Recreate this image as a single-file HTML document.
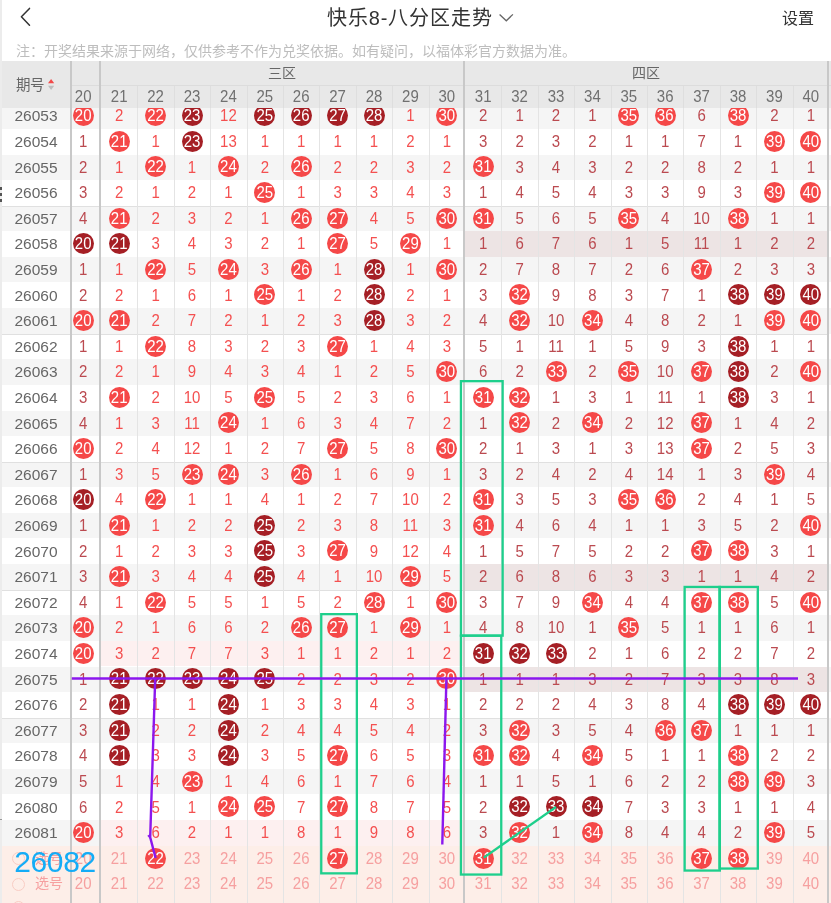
<!DOCTYPE html><html lang="zh-CN"><head><meta charset="utf-8"><style>
*{margin:0;padding:0;box-sizing:border-box}
html,body{width:831px;height:903px;overflow:hidden;background:#fff}
.L{will-change:transform}
.b span{display:inline-block;transform:scaleY(1.08)}
.t{transform:scaleY(1.08)}
body{position:relative;font-family:"Liberation Sans",sans-serif}
.a{position:absolute}
.t{position:absolute;width:36px;text-align:center;font-size:15px;line-height:25.6px;height:25.6px}
.b{position:absolute;width:21px;height:21px;border-radius:50%;color:#fff;text-align:center;font-size:15px;line-height:21px;}
.bb{background:#f54848}.bd{background:#a51f25}
.z3{color:#f45050}.z4{color:#bb4a50}
.pid{position:absolute;left:2px;width:68px;text-align:center;font-size:15.5px;color:#666;line-height:25.6px;height:25.6px}
.hl{position:absolute;height:1px}
.vl{position:absolute;width:1px}

</style></head><body><div class="a L" style="left:0;top:0;width:831px;height:903px;overflow:hidden">
<svg class="a" style="left:0;top:0" width="831" height="36"><polyline points="29.5,8.4 21.4,16.85 29.5,25.3" fill="none" stroke="#333" stroke-width="1.5" stroke-linecap="round" stroke-linejoin="round"/><polyline points="499.6,14.6 506.3,20.8 512.9,14.4" fill="none" stroke="#666" stroke-width="1.3"/></svg>
<div class="a" style="left:327px;top:1.5px;font-size:20px;color:#333;letter-spacing:0.9px;white-space:nowrap">快乐8-八分区走势</div>
<div class="a" style="left:782px;top:5px;font-size:16px;color:#333;white-space:nowrap">设置</div>
<div class="a" style="left:16px;top:40px;font-size:14px;color:#bdbdbd;white-space:nowrap">注：开奖结果来源于网络，仅供参考不作为兑奖依据。如有疑问，以福体彩官方数据为准。</div>
<div class="a L" style="left:0;top:108.0px;width:831px;height:795.0px;overflow:hidden">
<div class="a" style="left:2px;top:-4.70px;width:829px;height:25.6px;background:#f5f5f5"></div>
<div class="a" style="left:2px;top:46.50px;width:829px;height:25.6px;background:#f5f5f5"></div>
<div class="a" style="left:2px;top:97.70px;width:829px;height:25.6px;background:#f5f5f5"></div>
<div class="a" style="left:2px;top:148.90px;width:829px;height:25.6px;background:#f5f5f5"></div>
<div class="a" style="left:2px;top:200.10px;width:829px;height:25.6px;background:#f5f5f5"></div>
<div class="a" style="left:2px;top:251.30px;width:829px;height:25.6px;background:#f5f5f5"></div>
<div class="a" style="left:2px;top:302.50px;width:829px;height:25.6px;background:#f5f5f5"></div>
<div class="a" style="left:2px;top:353.70px;width:829px;height:25.6px;background:#f5f5f5"></div>
<div class="a" style="left:2px;top:404.90px;width:829px;height:25.6px;background:#f5f5f5"></div>
<div class="a" style="left:2px;top:456.10px;width:829px;height:25.6px;background:#f5f5f5"></div>
<div class="a" style="left:2px;top:507.30px;width:829px;height:25.6px;background:#f5f5f5"></div>
<div class="a" style="left:2px;top:558.50px;width:829px;height:25.6px;background:#f5f5f5"></div>
<div class="a" style="left:2px;top:609.70px;width:829px;height:25.6px;background:#f5f5f5"></div>
<div class="a" style="left:2px;top:660.90px;width:829px;height:25.6px;background:#f5f5f5"></div>
<div class="a" style="left:2px;top:712.10px;width:829px;height:25.6px;background:#f5f5f5"></div>
<div class="a" style="left:465px;top:123.30px;width:362px;height:25.6px;background:#ede4e4"></div>
<div class="a" style="left:465px;top:456.10px;width:362px;height:25.6px;background:#ede4e4"></div>
<div class="a" style="left:101px;top:532.90px;width:362px;height:25.6px;background:#fdf0f0"></div>
<div class="a" style="left:465px;top:558.50px;width:362px;height:25.6px;background:#ede4e4"></div>
<div class="a" style="left:101px;top:712.10px;width:362px;height:25.6px;background:#fdf0f0"></div>
<div class="a" style="left:2px;top:737.70px;width:829px;height:80px;background:#fdeee8"></div>
<div class="hl" style="left:2px;top:98.10px;width:827px;background:#e0e0e0"></div>
<div class="hl" style="left:2px;top:226.10px;width:827px;background:#e0e0e0"></div>
<div class="hl" style="left:2px;top:354.10px;width:827px;background:#e0e0e0"></div>
<div class="hl" style="left:2px;top:482.10px;width:827px;background:#e0e0e0"></div>
<div class="hl" style="left:2px;top:610.10px;width:827px;background:#e0e0e0"></div>
<div class="vl" style="left:137.40px;top:0;height:800px;background:#e4e4e4"></div>
<div class="vl" style="left:173.80px;top:0;height:800px;background:#e4e4e4"></div>
<div class="vl" style="left:210.20px;top:0;height:800px;background:#e4e4e4"></div>
<div class="vl" style="left:246.60px;top:0;height:800px;background:#e4e4e4"></div>
<div class="vl" style="left:283.00px;top:0;height:800px;background:#e4e4e4"></div>
<div class="vl" style="left:319.40px;top:0;height:800px;background:#e4e4e4"></div>
<div class="vl" style="left:355.80px;top:0;height:800px;background:#e4e4e4"></div>
<div class="vl" style="left:392.20px;top:0;height:800px;background:#e4e4e4"></div>
<div class="vl" style="left:428.60px;top:0;height:800px;background:#e4e4e4"></div>
<div class="vl" style="left:501.40px;top:0;height:800px;background:#e4e4e4"></div>
<div class="vl" style="left:537.80px;top:0;height:800px;background:#e4e4e4"></div>
<div class="vl" style="left:574.20px;top:0;height:800px;background:#e4e4e4"></div>
<div class="vl" style="left:610.60px;top:0;height:800px;background:#e4e4e4"></div>
<div class="vl" style="left:647.00px;top:0;height:800px;background:#e4e4e4"></div>
<div class="vl" style="left:683.40px;top:0;height:800px;background:#e4e4e4"></div>
<div class="vl" style="left:719.80px;top:0;height:800px;background:#e4e4e4"></div>
<div class="vl" style="left:756.20px;top:0;height:800px;background:#e4e4e4"></div>
<div class="vl" style="left:792.60px;top:0;height:800px;background:#e4e4e4"></div>
<div class="a" style="left:70px;top:0;width:2px;height:800px;background:#c8c8c8"></div>
<div class="a" style="left:99px;top:0;width:2px;height:800px;background:#c8c8c8"></div>
<div class="a" style="left:463px;top:0;width:2px;height:800px;background:#c8c8c8"></div>
<div class="a" style="left:827px;top:0;width:2px;height:800px;background:#c8c8c8"></div>
<div class="pid" style="top:-4.70px">26053</div>
<div class="b bb" style="left:72.70px;top:-2.80px"><span>20</span></div>
<div class="t z3" style="left:101.20px;top:-4.60px">2</div>
<div class="b bb" style="left:145.10px;top:-2.80px"><span>22</span></div>
<div class="b bd" style="left:181.50px;top:-2.80px"><span>23</span></div>
<div class="t z3" style="left:210.40px;top:-4.60px">12</div>
<div class="b bd" style="left:254.30px;top:-2.80px"><span>25</span></div>
<div class="b bd" style="left:290.70px;top:-2.80px"><span>26</span></div>
<div class="b bd" style="left:327.10px;top:-2.80px"><span>27</span></div>
<div class="b bd" style="left:363.50px;top:-2.80px"><span>28</span></div>
<div class="t z3" style="left:392.40px;top:-4.60px">1</div>
<div class="b bb" style="left:436.30px;top:-2.80px"><span>30</span></div>
<div class="t z4" style="left:465.20px;top:-4.60px">2</div>
<div class="t z4" style="left:501.60px;top:-4.60px">1</div>
<div class="t z4" style="left:538.00px;top:-4.60px">2</div>
<div class="t z4" style="left:574.40px;top:-4.60px">1</div>
<div class="b bb" style="left:618.30px;top:-2.80px"><span>35</span></div>
<div class="b bb" style="left:654.70px;top:-2.80px"><span>36</span></div>
<div class="t z4" style="left:683.60px;top:-4.60px">6</div>
<div class="b bb" style="left:727.50px;top:-2.80px"><span>38</span></div>
<div class="t z4" style="left:756.40px;top:-4.60px">2</div>
<div class="t z4" style="left:792.80px;top:-4.60px">1</div>
<div class="pid" style="top:20.90px">26054</div>
<div class="t z4" style="left:65.20px;top:21.00px">1</div>
<div class="b bb" style="left:108.70px;top:22.80px"><span>21</span></div>
<div class="t z3" style="left:137.60px;top:21.00px">1</div>
<div class="b bd" style="left:181.50px;top:22.80px"><span>23</span></div>
<div class="t z3" style="left:210.40px;top:21.00px">13</div>
<div class="t z3" style="left:246.80px;top:21.00px">1</div>
<div class="t z3" style="left:283.20px;top:21.00px">1</div>
<div class="t z3" style="left:319.60px;top:21.00px">1</div>
<div class="t z3" style="left:356.00px;top:21.00px">1</div>
<div class="t z3" style="left:392.40px;top:21.00px">2</div>
<div class="t z3" style="left:428.80px;top:21.00px">1</div>
<div class="t z4" style="left:465.20px;top:21.00px">3</div>
<div class="t z4" style="left:501.60px;top:21.00px">2</div>
<div class="t z4" style="left:538.00px;top:21.00px">3</div>
<div class="t z4" style="left:574.40px;top:21.00px">2</div>
<div class="t z4" style="left:610.80px;top:21.00px">1</div>
<div class="t z4" style="left:647.20px;top:21.00px">1</div>
<div class="t z4" style="left:683.60px;top:21.00px">7</div>
<div class="t z4" style="left:720.00px;top:21.00px">1</div>
<div class="b bb" style="left:763.90px;top:22.80px"><span>39</span></div>
<div class="b bb" style="left:800.30px;top:22.80px"><span>40</span></div>
<div class="pid" style="top:46.50px">26055</div>
<div class="t z4" style="left:65.20px;top:46.60px">2</div>
<div class="t z3" style="left:101.20px;top:46.60px">1</div>
<div class="b bb" style="left:145.10px;top:48.40px"><span>22</span></div>
<div class="t z3" style="left:174.00px;top:46.60px">1</div>
<div class="b bb" style="left:217.90px;top:48.40px"><span>24</span></div>
<div class="t z3" style="left:246.80px;top:46.60px">2</div>
<div class="b bb" style="left:290.70px;top:48.40px"><span>26</span></div>
<div class="t z3" style="left:319.60px;top:46.60px">2</div>
<div class="t z3" style="left:356.00px;top:46.60px">2</div>
<div class="t z3" style="left:392.40px;top:46.60px">3</div>
<div class="t z3" style="left:428.80px;top:46.60px">2</div>
<div class="b bb" style="left:472.70px;top:48.40px"><span>31</span></div>
<div class="t z4" style="left:501.60px;top:46.60px">3</div>
<div class="t z4" style="left:538.00px;top:46.60px">4</div>
<div class="t z4" style="left:574.40px;top:46.60px">3</div>
<div class="t z4" style="left:610.80px;top:46.60px">2</div>
<div class="t z4" style="left:647.20px;top:46.60px">2</div>
<div class="t z4" style="left:683.60px;top:46.60px">8</div>
<div class="t z4" style="left:720.00px;top:46.60px">2</div>
<div class="t z4" style="left:756.40px;top:46.60px">1</div>
<div class="t z4" style="left:792.80px;top:46.60px">1</div>
<div class="pid" style="top:72.10px">26056</div>
<div class="t z4" style="left:65.20px;top:72.20px">3</div>
<div class="t z3" style="left:101.20px;top:72.20px">2</div>
<div class="t z3" style="left:137.60px;top:72.20px">1</div>
<div class="t z3" style="left:174.00px;top:72.20px">2</div>
<div class="t z3" style="left:210.40px;top:72.20px">1</div>
<div class="b bb" style="left:254.30px;top:74.00px"><span>25</span></div>
<div class="t z3" style="left:283.20px;top:72.20px">1</div>
<div class="t z3" style="left:319.60px;top:72.20px">3</div>
<div class="t z3" style="left:356.00px;top:72.20px">3</div>
<div class="t z3" style="left:392.40px;top:72.20px">4</div>
<div class="t z3" style="left:428.80px;top:72.20px">3</div>
<div class="t z4" style="left:465.20px;top:72.20px">1</div>
<div class="t z4" style="left:501.60px;top:72.20px">4</div>
<div class="t z4" style="left:538.00px;top:72.20px">5</div>
<div class="t z4" style="left:574.40px;top:72.20px">4</div>
<div class="t z4" style="left:610.80px;top:72.20px">3</div>
<div class="t z4" style="left:647.20px;top:72.20px">3</div>
<div class="t z4" style="left:683.60px;top:72.20px">9</div>
<div class="t z4" style="left:720.00px;top:72.20px">3</div>
<div class="b bb" style="left:763.90px;top:74.00px"><span>39</span></div>
<div class="b bb" style="left:800.30px;top:74.00px"><span>40</span></div>
<div class="pid" style="top:97.70px">26057</div>
<div class="t z4" style="left:65.20px;top:97.80px">4</div>
<div class="b bb" style="left:108.70px;top:99.60px"><span>21</span></div>
<div class="t z3" style="left:137.60px;top:97.80px">2</div>
<div class="t z3" style="left:174.00px;top:97.80px">3</div>
<div class="t z3" style="left:210.40px;top:97.80px">2</div>
<div class="t z3" style="left:246.80px;top:97.80px">1</div>
<div class="b bb" style="left:290.70px;top:99.60px"><span>26</span></div>
<div class="b bb" style="left:327.10px;top:99.60px"><span>27</span></div>
<div class="t z3" style="left:356.00px;top:97.80px">4</div>
<div class="t z3" style="left:392.40px;top:97.80px">5</div>
<div class="b bb" style="left:436.30px;top:99.60px"><span>30</span></div>
<div class="b bb" style="left:472.70px;top:99.60px"><span>31</span></div>
<div class="t z4" style="left:501.60px;top:97.80px">5</div>
<div class="t z4" style="left:538.00px;top:97.80px">6</div>
<div class="t z4" style="left:574.40px;top:97.80px">5</div>
<div class="b bb" style="left:618.30px;top:99.60px"><span>35</span></div>
<div class="t z4" style="left:647.20px;top:97.80px">4</div>
<div class="t z4" style="left:683.60px;top:97.80px">10</div>
<div class="b bb" style="left:727.50px;top:99.60px"><span>38</span></div>
<div class="t z4" style="left:756.40px;top:97.80px">1</div>
<div class="t z4" style="left:792.80px;top:97.80px">1</div>
<div class="pid" style="top:123.30px">26058</div>
<div class="b bd" style="left:72.70px;top:125.20px"><span>20</span></div>
<div class="b bd" style="left:108.70px;top:125.20px"><span>21</span></div>
<div class="t z3" style="left:137.60px;top:123.40px">3</div>
<div class="t z3" style="left:174.00px;top:123.40px">4</div>
<div class="t z3" style="left:210.40px;top:123.40px">3</div>
<div class="t z3" style="left:246.80px;top:123.40px">2</div>
<div class="t z3" style="left:283.20px;top:123.40px">1</div>
<div class="b bb" style="left:327.10px;top:125.20px"><span>27</span></div>
<div class="t z3" style="left:356.00px;top:123.40px">5</div>
<div class="b bb" style="left:399.90px;top:125.20px"><span>29</span></div>
<div class="t z3" style="left:428.80px;top:123.40px">1</div>
<div class="t z4" style="left:465.20px;top:123.40px">1</div>
<div class="t z4" style="left:501.60px;top:123.40px">6</div>
<div class="t z4" style="left:538.00px;top:123.40px">7</div>
<div class="t z4" style="left:574.40px;top:123.40px">6</div>
<div class="t z4" style="left:610.80px;top:123.40px">1</div>
<div class="t z4" style="left:647.20px;top:123.40px">5</div>
<div class="t z4" style="left:683.60px;top:123.40px">11</div>
<div class="t z4" style="left:720.00px;top:123.40px">1</div>
<div class="t z4" style="left:756.40px;top:123.40px">2</div>
<div class="t z4" style="left:792.80px;top:123.40px">2</div>
<div class="pid" style="top:148.90px">26059</div>
<div class="t z4" style="left:65.20px;top:149.00px">1</div>
<div class="t z3" style="left:101.20px;top:149.00px">1</div>
<div class="b bb" style="left:145.10px;top:150.80px"><span>22</span></div>
<div class="t z3" style="left:174.00px;top:149.00px">5</div>
<div class="b bb" style="left:217.90px;top:150.80px"><span>24</span></div>
<div class="t z3" style="left:246.80px;top:149.00px">3</div>
<div class="b bb" style="left:290.70px;top:150.80px"><span>26</span></div>
<div class="t z3" style="left:319.60px;top:149.00px">1</div>
<div class="b bd" style="left:363.50px;top:150.80px"><span>28</span></div>
<div class="t z3" style="left:392.40px;top:149.00px">1</div>
<div class="b bb" style="left:436.30px;top:150.80px"><span>30</span></div>
<div class="t z4" style="left:465.20px;top:149.00px">2</div>
<div class="t z4" style="left:501.60px;top:149.00px">7</div>
<div class="t z4" style="left:538.00px;top:149.00px">8</div>
<div class="t z4" style="left:574.40px;top:149.00px">7</div>
<div class="t z4" style="left:610.80px;top:149.00px">2</div>
<div class="t z4" style="left:647.20px;top:149.00px">6</div>
<div class="b bb" style="left:691.10px;top:150.80px"><span>37</span></div>
<div class="t z4" style="left:720.00px;top:149.00px">2</div>
<div class="t z4" style="left:756.40px;top:149.00px">3</div>
<div class="t z4" style="left:792.80px;top:149.00px">3</div>
<div class="pid" style="top:174.50px">26060</div>
<div class="t z4" style="left:65.20px;top:174.60px">2</div>
<div class="t z3" style="left:101.20px;top:174.60px">2</div>
<div class="t z3" style="left:137.60px;top:174.60px">1</div>
<div class="t z3" style="left:174.00px;top:174.60px">6</div>
<div class="t z3" style="left:210.40px;top:174.60px">1</div>
<div class="b bb" style="left:254.30px;top:176.40px"><span>25</span></div>
<div class="t z3" style="left:283.20px;top:174.60px">1</div>
<div class="t z3" style="left:319.60px;top:174.60px">2</div>
<div class="b bd" style="left:363.50px;top:176.40px"><span>28</span></div>
<div class="t z3" style="left:392.40px;top:174.60px">2</div>
<div class="t z3" style="left:428.80px;top:174.60px">1</div>
<div class="t z4" style="left:465.20px;top:174.60px">3</div>
<div class="b bb" style="left:509.10px;top:176.40px"><span>32</span></div>
<div class="t z4" style="left:538.00px;top:174.60px">9</div>
<div class="t z4" style="left:574.40px;top:174.60px">8</div>
<div class="t z4" style="left:610.80px;top:174.60px">3</div>
<div class="t z4" style="left:647.20px;top:174.60px">7</div>
<div class="t z4" style="left:683.60px;top:174.60px">1</div>
<div class="b bd" style="left:727.50px;top:176.40px"><span>38</span></div>
<div class="b bd" style="left:763.90px;top:176.40px"><span>39</span></div>
<div class="b bd" style="left:800.30px;top:176.40px"><span>40</span></div>
<div class="pid" style="top:200.10px">26061</div>
<div class="b bb" style="left:72.70px;top:202.00px"><span>20</span></div>
<div class="b bb" style="left:108.70px;top:202.00px"><span>21</span></div>
<div class="t z3" style="left:137.60px;top:200.20px">2</div>
<div class="t z3" style="left:174.00px;top:200.20px">7</div>
<div class="t z3" style="left:210.40px;top:200.20px">2</div>
<div class="t z3" style="left:246.80px;top:200.20px">1</div>
<div class="t z3" style="left:283.20px;top:200.20px">2</div>
<div class="t z3" style="left:319.60px;top:200.20px">3</div>
<div class="b bd" style="left:363.50px;top:202.00px"><span>28</span></div>
<div class="t z3" style="left:392.40px;top:200.20px">3</div>
<div class="t z3" style="left:428.80px;top:200.20px">2</div>
<div class="t z4" style="left:465.20px;top:200.20px">4</div>
<div class="b bb" style="left:509.10px;top:202.00px"><span>32</span></div>
<div class="t z4" style="left:538.00px;top:200.20px">10</div>
<div class="b bb" style="left:581.90px;top:202.00px"><span>34</span></div>
<div class="t z4" style="left:610.80px;top:200.20px">4</div>
<div class="t z4" style="left:647.20px;top:200.20px">8</div>
<div class="t z4" style="left:683.60px;top:200.20px">2</div>
<div class="t z4" style="left:720.00px;top:200.20px">1</div>
<div class="b bb" style="left:763.90px;top:202.00px"><span>39</span></div>
<div class="b bb" style="left:800.30px;top:202.00px"><span>40</span></div>
<div class="pid" style="top:225.70px">26062</div>
<div class="t z4" style="left:65.20px;top:225.80px">1</div>
<div class="t z3" style="left:101.20px;top:225.80px">1</div>
<div class="b bb" style="left:145.10px;top:227.60px"><span>22</span></div>
<div class="t z3" style="left:174.00px;top:225.80px">8</div>
<div class="t z3" style="left:210.40px;top:225.80px">3</div>
<div class="t z3" style="left:246.80px;top:225.80px">2</div>
<div class="t z3" style="left:283.20px;top:225.80px">3</div>
<div class="b bb" style="left:327.10px;top:227.60px"><span>27</span></div>
<div class="t z3" style="left:356.00px;top:225.80px">1</div>
<div class="t z3" style="left:392.40px;top:225.80px">4</div>
<div class="t z3" style="left:428.80px;top:225.80px">3</div>
<div class="t z4" style="left:465.20px;top:225.80px">5</div>
<div class="t z4" style="left:501.60px;top:225.80px">1</div>
<div class="t z4" style="left:538.00px;top:225.80px">11</div>
<div class="t z4" style="left:574.40px;top:225.80px">1</div>
<div class="t z4" style="left:610.80px;top:225.80px">5</div>
<div class="t z4" style="left:647.20px;top:225.80px">9</div>
<div class="t z4" style="left:683.60px;top:225.80px">3</div>
<div class="b bd" style="left:727.50px;top:227.60px"><span>38</span></div>
<div class="t z4" style="left:756.40px;top:225.80px">1</div>
<div class="t z4" style="left:792.80px;top:225.80px">1</div>
<div class="pid" style="top:251.30px">26063</div>
<div class="t z4" style="left:65.20px;top:251.40px">2</div>
<div class="t z3" style="left:101.20px;top:251.40px">2</div>
<div class="t z3" style="left:137.60px;top:251.40px">1</div>
<div class="t z3" style="left:174.00px;top:251.40px">9</div>
<div class="t z3" style="left:210.40px;top:251.40px">4</div>
<div class="t z3" style="left:246.80px;top:251.40px">3</div>
<div class="t z3" style="left:283.20px;top:251.40px">4</div>
<div class="t z3" style="left:319.60px;top:251.40px">1</div>
<div class="t z3" style="left:356.00px;top:251.40px">2</div>
<div class="t z3" style="left:392.40px;top:251.40px">5</div>
<div class="b bb" style="left:436.30px;top:253.20px"><span>30</span></div>
<div class="t z4" style="left:465.20px;top:251.40px">6</div>
<div class="t z4" style="left:501.60px;top:251.40px">2</div>
<div class="b bb" style="left:545.50px;top:253.20px"><span>33</span></div>
<div class="t z4" style="left:574.40px;top:251.40px">2</div>
<div class="b bb" style="left:618.30px;top:253.20px"><span>35</span></div>
<div class="t z4" style="left:647.20px;top:251.40px">10</div>
<div class="b bb" style="left:691.10px;top:253.20px"><span>37</span></div>
<div class="b bd" style="left:727.50px;top:253.20px"><span>38</span></div>
<div class="t z4" style="left:756.40px;top:251.40px">2</div>
<div class="b bb" style="left:800.30px;top:253.20px"><span>40</span></div>
<div class="pid" style="top:276.90px">26064</div>
<div class="t z4" style="left:65.20px;top:277.00px">3</div>
<div class="b bb" style="left:108.70px;top:278.80px"><span>21</span></div>
<div class="t z3" style="left:137.60px;top:277.00px">2</div>
<div class="t z3" style="left:174.00px;top:277.00px">10</div>
<div class="t z3" style="left:210.40px;top:277.00px">5</div>
<div class="b bb" style="left:254.30px;top:278.80px"><span>25</span></div>
<div class="t z3" style="left:283.20px;top:277.00px">5</div>
<div class="t z3" style="left:319.60px;top:277.00px">2</div>
<div class="t z3" style="left:356.00px;top:277.00px">3</div>
<div class="t z3" style="left:392.40px;top:277.00px">6</div>
<div class="t z3" style="left:428.80px;top:277.00px">1</div>
<div class="b bb" style="left:472.70px;top:278.80px"><span>31</span></div>
<div class="b bb" style="left:509.10px;top:278.80px"><span>32</span></div>
<div class="t z4" style="left:538.00px;top:277.00px">1</div>
<div class="t z4" style="left:574.40px;top:277.00px">3</div>
<div class="t z4" style="left:610.80px;top:277.00px">1</div>
<div class="t z4" style="left:647.20px;top:277.00px">11</div>
<div class="t z4" style="left:683.60px;top:277.00px">1</div>
<div class="b bd" style="left:727.50px;top:278.80px"><span>38</span></div>
<div class="t z4" style="left:756.40px;top:277.00px">3</div>
<div class="t z4" style="left:792.80px;top:277.00px">1</div>
<div class="pid" style="top:302.50px">26065</div>
<div class="t z4" style="left:65.20px;top:302.60px">4</div>
<div class="t z3" style="left:101.20px;top:302.60px">1</div>
<div class="t z3" style="left:137.60px;top:302.60px">3</div>
<div class="t z3" style="left:174.00px;top:302.60px">11</div>
<div class="b bb" style="left:217.90px;top:304.40px"><span>24</span></div>
<div class="t z3" style="left:246.80px;top:302.60px">1</div>
<div class="t z3" style="left:283.20px;top:302.60px">6</div>
<div class="t z3" style="left:319.60px;top:302.60px">3</div>
<div class="t z3" style="left:356.00px;top:302.60px">4</div>
<div class="t z3" style="left:392.40px;top:302.60px">7</div>
<div class="t z3" style="left:428.80px;top:302.60px">2</div>
<div class="t z4" style="left:465.20px;top:302.60px">1</div>
<div class="b bb" style="left:509.10px;top:304.40px"><span>32</span></div>
<div class="t z4" style="left:538.00px;top:302.60px">2</div>
<div class="b bb" style="left:581.90px;top:304.40px"><span>34</span></div>
<div class="t z4" style="left:610.80px;top:302.60px">2</div>
<div class="t z4" style="left:647.20px;top:302.60px">12</div>
<div class="b bb" style="left:691.10px;top:304.40px"><span>37</span></div>
<div class="t z4" style="left:720.00px;top:302.60px">1</div>
<div class="t z4" style="left:756.40px;top:302.60px">4</div>
<div class="t z4" style="left:792.80px;top:302.60px">2</div>
<div class="pid" style="top:328.10px">26066</div>
<div class="b bb" style="left:72.70px;top:330.00px"><span>20</span></div>
<div class="t z3" style="left:101.20px;top:328.20px">2</div>
<div class="t z3" style="left:137.60px;top:328.20px">4</div>
<div class="t z3" style="left:174.00px;top:328.20px">12</div>
<div class="t z3" style="left:210.40px;top:328.20px">1</div>
<div class="t z3" style="left:246.80px;top:328.20px">2</div>
<div class="t z3" style="left:283.20px;top:328.20px">7</div>
<div class="b bb" style="left:327.10px;top:330.00px"><span>27</span></div>
<div class="t z3" style="left:356.00px;top:328.20px">5</div>
<div class="t z3" style="left:392.40px;top:328.20px">8</div>
<div class="b bb" style="left:436.30px;top:330.00px"><span>30</span></div>
<div class="t z4" style="left:465.20px;top:328.20px">2</div>
<div class="t z4" style="left:501.60px;top:328.20px">1</div>
<div class="t z4" style="left:538.00px;top:328.20px">3</div>
<div class="t z4" style="left:574.40px;top:328.20px">1</div>
<div class="t z4" style="left:610.80px;top:328.20px">3</div>
<div class="t z4" style="left:647.20px;top:328.20px">13</div>
<div class="b bb" style="left:691.10px;top:330.00px"><span>37</span></div>
<div class="t z4" style="left:720.00px;top:328.20px">2</div>
<div class="t z4" style="left:756.40px;top:328.20px">5</div>
<div class="t z4" style="left:792.80px;top:328.20px">3</div>
<div class="pid" style="top:353.70px">26067</div>
<div class="t z4" style="left:65.20px;top:353.80px">1</div>
<div class="t z3" style="left:101.20px;top:353.80px">3</div>
<div class="t z3" style="left:137.60px;top:353.80px">5</div>
<div class="b bb" style="left:181.50px;top:355.60px"><span>23</span></div>
<div class="b bb" style="left:217.90px;top:355.60px"><span>24</span></div>
<div class="t z3" style="left:246.80px;top:353.80px">3</div>
<div class="b bb" style="left:290.70px;top:355.60px"><span>26</span></div>
<div class="t z3" style="left:319.60px;top:353.80px">1</div>
<div class="t z3" style="left:356.00px;top:353.80px">6</div>
<div class="t z3" style="left:392.40px;top:353.80px">9</div>
<div class="t z3" style="left:428.80px;top:353.80px">1</div>
<div class="t z4" style="left:465.20px;top:353.80px">3</div>
<div class="t z4" style="left:501.60px;top:353.80px">2</div>
<div class="t z4" style="left:538.00px;top:353.80px">4</div>
<div class="t z4" style="left:574.40px;top:353.80px">2</div>
<div class="t z4" style="left:610.80px;top:353.80px">4</div>
<div class="t z4" style="left:647.20px;top:353.80px">14</div>
<div class="t z4" style="left:683.60px;top:353.80px">1</div>
<div class="t z4" style="left:720.00px;top:353.80px">3</div>
<div class="b bb" style="left:763.90px;top:355.60px"><span>39</span></div>
<div class="t z4" style="left:792.80px;top:353.80px">4</div>
<div class="pid" style="top:379.30px">26068</div>
<div class="b bd" style="left:72.70px;top:381.20px"><span>20</span></div>
<div class="t z3" style="left:101.20px;top:379.40px">4</div>
<div class="b bb" style="left:145.10px;top:381.20px"><span>22</span></div>
<div class="t z3" style="left:174.00px;top:379.40px">1</div>
<div class="t z3" style="left:210.40px;top:379.40px">1</div>
<div class="t z3" style="left:246.80px;top:379.40px">4</div>
<div class="t z3" style="left:283.20px;top:379.40px">1</div>
<div class="t z3" style="left:319.60px;top:379.40px">2</div>
<div class="t z3" style="left:356.00px;top:379.40px">7</div>
<div class="t z3" style="left:392.40px;top:379.40px">10</div>
<div class="t z3" style="left:428.80px;top:379.40px">2</div>
<div class="b bb" style="left:472.70px;top:381.20px"><span>31</span></div>
<div class="t z4" style="left:501.60px;top:379.40px">3</div>
<div class="t z4" style="left:538.00px;top:379.40px">5</div>
<div class="t z4" style="left:574.40px;top:379.40px">3</div>
<div class="b bb" style="left:618.30px;top:381.20px"><span>35</span></div>
<div class="b bb" style="left:654.70px;top:381.20px"><span>36</span></div>
<div class="t z4" style="left:683.60px;top:379.40px">2</div>
<div class="t z4" style="left:720.00px;top:379.40px">4</div>
<div class="t z4" style="left:756.40px;top:379.40px">1</div>
<div class="t z4" style="left:792.80px;top:379.40px">5</div>
<div class="pid" style="top:404.90px">26069</div>
<div class="t z4" style="left:65.20px;top:405.00px">1</div>
<div class="b bb" style="left:108.70px;top:406.80px"><span>21</span></div>
<div class="t z3" style="left:137.60px;top:405.00px">1</div>
<div class="t z3" style="left:174.00px;top:405.00px">2</div>
<div class="t z3" style="left:210.40px;top:405.00px">2</div>
<div class="b bd" style="left:254.30px;top:406.80px"><span>25</span></div>
<div class="t z3" style="left:283.20px;top:405.00px">2</div>
<div class="t z3" style="left:319.60px;top:405.00px">3</div>
<div class="t z3" style="left:356.00px;top:405.00px">8</div>
<div class="t z3" style="left:392.40px;top:405.00px">11</div>
<div class="t z3" style="left:428.80px;top:405.00px">3</div>
<div class="b bb" style="left:472.70px;top:406.80px"><span>31</span></div>
<div class="t z4" style="left:501.60px;top:405.00px">4</div>
<div class="t z4" style="left:538.00px;top:405.00px">6</div>
<div class="t z4" style="left:574.40px;top:405.00px">4</div>
<div class="t z4" style="left:610.80px;top:405.00px">1</div>
<div class="t z4" style="left:647.20px;top:405.00px">1</div>
<div class="t z4" style="left:683.60px;top:405.00px">3</div>
<div class="t z4" style="left:720.00px;top:405.00px">5</div>
<div class="t z4" style="left:756.40px;top:405.00px">2</div>
<div class="b bb" style="left:800.30px;top:406.80px"><span>40</span></div>
<div class="pid" style="top:430.50px">26070</div>
<div class="t z4" style="left:65.20px;top:430.60px">2</div>
<div class="t z3" style="left:101.20px;top:430.60px">1</div>
<div class="t z3" style="left:137.60px;top:430.60px">2</div>
<div class="t z3" style="left:174.00px;top:430.60px">3</div>
<div class="t z3" style="left:210.40px;top:430.60px">3</div>
<div class="b bd" style="left:254.30px;top:432.40px"><span>25</span></div>
<div class="t z3" style="left:283.20px;top:430.60px">3</div>
<div class="b bb" style="left:327.10px;top:432.40px"><span>27</span></div>
<div class="t z3" style="left:356.00px;top:430.60px">9</div>
<div class="t z3" style="left:392.40px;top:430.60px">12</div>
<div class="t z3" style="left:428.80px;top:430.60px">4</div>
<div class="t z4" style="left:465.20px;top:430.60px">1</div>
<div class="t z4" style="left:501.60px;top:430.60px">5</div>
<div class="t z4" style="left:538.00px;top:430.60px">7</div>
<div class="t z4" style="left:574.40px;top:430.60px">5</div>
<div class="t z4" style="left:610.80px;top:430.60px">2</div>
<div class="t z4" style="left:647.20px;top:430.60px">2</div>
<div class="b bb" style="left:691.10px;top:432.40px"><span>37</span></div>
<div class="b bb" style="left:727.50px;top:432.40px"><span>38</span></div>
<div class="t z4" style="left:756.40px;top:430.60px">3</div>
<div class="t z4" style="left:792.80px;top:430.60px">1</div>
<div class="pid" style="top:456.10px">26071</div>
<div class="t z4" style="left:65.20px;top:456.20px">3</div>
<div class="b bb" style="left:108.70px;top:458.00px"><span>21</span></div>
<div class="t z3" style="left:137.60px;top:456.20px">3</div>
<div class="t z3" style="left:174.00px;top:456.20px">4</div>
<div class="t z3" style="left:210.40px;top:456.20px">4</div>
<div class="b bd" style="left:254.30px;top:458.00px"><span>25</span></div>
<div class="t z3" style="left:283.20px;top:456.20px">4</div>
<div class="t z3" style="left:319.60px;top:456.20px">1</div>
<div class="t z3" style="left:356.00px;top:456.20px">10</div>
<div class="b bb" style="left:399.90px;top:458.00px"><span>29</span></div>
<div class="t z3" style="left:428.80px;top:456.20px">5</div>
<div class="t z4" style="left:465.20px;top:456.20px">2</div>
<div class="t z4" style="left:501.60px;top:456.20px">6</div>
<div class="t z4" style="left:538.00px;top:456.20px">8</div>
<div class="t z4" style="left:574.40px;top:456.20px">6</div>
<div class="t z4" style="left:610.80px;top:456.20px">3</div>
<div class="t z4" style="left:647.20px;top:456.20px">3</div>
<div class="t z4" style="left:683.60px;top:456.20px">1</div>
<div class="t z4" style="left:720.00px;top:456.20px">1</div>
<div class="t z4" style="left:756.40px;top:456.20px">4</div>
<div class="t z4" style="left:792.80px;top:456.20px">2</div>
<div class="pid" style="top:481.70px">26072</div>
<div class="t z4" style="left:65.20px;top:481.80px">4</div>
<div class="t z3" style="left:101.20px;top:481.80px">1</div>
<div class="b bb" style="left:145.10px;top:483.60px"><span>22</span></div>
<div class="t z3" style="left:174.00px;top:481.80px">5</div>
<div class="t z3" style="left:210.40px;top:481.80px">5</div>
<div class="t z3" style="left:246.80px;top:481.80px">1</div>
<div class="t z3" style="left:283.20px;top:481.80px">5</div>
<div class="t z3" style="left:319.60px;top:481.80px">2</div>
<div class="b bb" style="left:363.50px;top:483.60px"><span>28</span></div>
<div class="t z3" style="left:392.40px;top:481.80px">1</div>
<div class="b bb" style="left:436.30px;top:483.60px"><span>30</span></div>
<div class="t z4" style="left:465.20px;top:481.80px">3</div>
<div class="t z4" style="left:501.60px;top:481.80px">7</div>
<div class="t z4" style="left:538.00px;top:481.80px">9</div>
<div class="b bb" style="left:581.90px;top:483.60px"><span>34</span></div>
<div class="t z4" style="left:610.80px;top:481.80px">4</div>
<div class="t z4" style="left:647.20px;top:481.80px">4</div>
<div class="b bb" style="left:691.10px;top:483.60px"><span>37</span></div>
<div class="b bb" style="left:727.50px;top:483.60px"><span>38</span></div>
<div class="t z4" style="left:756.40px;top:481.80px">5</div>
<div class="b bb" style="left:800.30px;top:483.60px"><span>40</span></div>
<div class="pid" style="top:507.30px">26073</div>
<div class="b bb" style="left:72.70px;top:509.20px"><span>20</span></div>
<div class="t z3" style="left:101.20px;top:507.40px">2</div>
<div class="t z3" style="left:137.60px;top:507.40px">1</div>
<div class="t z3" style="left:174.00px;top:507.40px">6</div>
<div class="t z3" style="left:210.40px;top:507.40px">6</div>
<div class="t z3" style="left:246.80px;top:507.40px">2</div>
<div class="b bb" style="left:290.70px;top:509.20px"><span>26</span></div>
<div class="b bb" style="left:327.10px;top:509.20px"><span>27</span></div>
<div class="t z3" style="left:356.00px;top:507.40px">1</div>
<div class="b bb" style="left:399.90px;top:509.20px"><span>29</span></div>
<div class="t z3" style="left:428.80px;top:507.40px">1</div>
<div class="t z4" style="left:465.20px;top:507.40px">4</div>
<div class="t z4" style="left:501.60px;top:507.40px">8</div>
<div class="t z4" style="left:538.00px;top:507.40px">10</div>
<div class="t z4" style="left:574.40px;top:507.40px">1</div>
<div class="b bb" style="left:618.30px;top:509.20px"><span>35</span></div>
<div class="t z4" style="left:647.20px;top:507.40px">5</div>
<div class="t z4" style="left:683.60px;top:507.40px">1</div>
<div class="t z4" style="left:720.00px;top:507.40px">1</div>
<div class="t z4" style="left:756.40px;top:507.40px">6</div>
<div class="t z4" style="left:792.80px;top:507.40px">1</div>
<div class="pid" style="top:532.90px">26074</div>
<div class="b bb" style="left:72.70px;top:534.80px"><span>20</span></div>
<div class="t z3" style="left:101.20px;top:533.00px">3</div>
<div class="t z3" style="left:137.60px;top:533.00px">2</div>
<div class="t z3" style="left:174.00px;top:533.00px">7</div>
<div class="t z3" style="left:210.40px;top:533.00px">7</div>
<div class="t z3" style="left:246.80px;top:533.00px">3</div>
<div class="t z3" style="left:283.20px;top:533.00px">1</div>
<div class="t z3" style="left:319.60px;top:533.00px">1</div>
<div class="t z3" style="left:356.00px;top:533.00px">2</div>
<div class="t z3" style="left:392.40px;top:533.00px">1</div>
<div class="t z3" style="left:428.80px;top:533.00px">2</div>
<div class="b bd" style="left:472.70px;top:534.80px"><span>31</span></div>
<div class="b bd" style="left:509.10px;top:534.80px"><span>32</span></div>
<div class="b bd" style="left:545.50px;top:534.80px"><span>33</span></div>
<div class="t z4" style="left:574.40px;top:533.00px">2</div>
<div class="t z4" style="left:610.80px;top:533.00px">1</div>
<div class="t z4" style="left:647.20px;top:533.00px">6</div>
<div class="t z4" style="left:683.60px;top:533.00px">2</div>
<div class="t z4" style="left:720.00px;top:533.00px">2</div>
<div class="t z4" style="left:756.40px;top:533.00px">7</div>
<div class="t z4" style="left:792.80px;top:533.00px">2</div>
<div class="pid" style="top:558.50px">26075</div>
<div class="t z4" style="left:65.20px;top:558.60px">1</div>
<div class="b bd" style="left:108.70px;top:560.40px"><span>21</span></div>
<div class="b bd" style="left:145.10px;top:560.40px"><span>22</span></div>
<div class="b bd" style="left:181.50px;top:560.40px"><span>23</span></div>
<div class="b bd" style="left:217.90px;top:560.40px"><span>24</span></div>
<div class="b bd" style="left:254.30px;top:560.40px"><span>25</span></div>
<div class="t z3" style="left:283.20px;top:558.60px">2</div>
<div class="t z3" style="left:319.60px;top:558.60px">2</div>
<div class="t z3" style="left:356.00px;top:558.60px">3</div>
<div class="t z3" style="left:392.40px;top:558.60px">2</div>
<div class="b bb" style="left:436.30px;top:560.40px"><span>30</span></div>
<div class="t z4" style="left:465.20px;top:558.60px">1</div>
<div class="t z4" style="left:501.60px;top:558.60px">1</div>
<div class="t z4" style="left:538.00px;top:558.60px">1</div>
<div class="t z4" style="left:574.40px;top:558.60px">3</div>
<div class="t z4" style="left:610.80px;top:558.60px">2</div>
<div class="t z4" style="left:647.20px;top:558.60px">7</div>
<div class="t z4" style="left:683.60px;top:558.60px">3</div>
<div class="t z4" style="left:720.00px;top:558.60px">3</div>
<div class="t z4" style="left:756.40px;top:558.60px">8</div>
<div class="t z4" style="left:792.80px;top:558.60px">3</div>
<div class="pid" style="top:584.10px">26076</div>
<div class="t z4" style="left:65.20px;top:584.20px">2</div>
<div class="b bd" style="left:108.70px;top:586.00px"><span>21</span></div>
<div class="t z3" style="left:137.60px;top:584.20px">1</div>
<div class="t z3" style="left:174.00px;top:584.20px">1</div>
<div class="b bd" style="left:217.90px;top:586.00px"><span>24</span></div>
<div class="t z3" style="left:246.80px;top:584.20px">1</div>
<div class="t z3" style="left:283.20px;top:584.20px">3</div>
<div class="t z3" style="left:319.60px;top:584.20px">3</div>
<div class="t z3" style="left:356.00px;top:584.20px">4</div>
<div class="t z3" style="left:392.40px;top:584.20px">3</div>
<div class="t z3" style="left:428.80px;top:584.20px">1</div>
<div class="t z4" style="left:465.20px;top:584.20px">2</div>
<div class="t z4" style="left:501.60px;top:584.20px">2</div>
<div class="t z4" style="left:538.00px;top:584.20px">2</div>
<div class="t z4" style="left:574.40px;top:584.20px">4</div>
<div class="t z4" style="left:610.80px;top:584.20px">3</div>
<div class="t z4" style="left:647.20px;top:584.20px">8</div>
<div class="t z4" style="left:683.60px;top:584.20px">4</div>
<div class="b bd" style="left:727.50px;top:586.00px"><span>38</span></div>
<div class="b bd" style="left:763.90px;top:586.00px"><span>39</span></div>
<div class="b bd" style="left:800.30px;top:586.00px"><span>40</span></div>
<div class="pid" style="top:609.70px">26077</div>
<div class="t z4" style="left:65.20px;top:609.80px">3</div>
<div class="b bd" style="left:108.70px;top:611.60px"><span>21</span></div>
<div class="t z3" style="left:137.60px;top:609.80px">2</div>
<div class="t z3" style="left:174.00px;top:609.80px">2</div>
<div class="b bd" style="left:217.90px;top:611.60px"><span>24</span></div>
<div class="t z3" style="left:246.80px;top:609.80px">2</div>
<div class="t z3" style="left:283.20px;top:609.80px">4</div>
<div class="t z3" style="left:319.60px;top:609.80px">4</div>
<div class="t z3" style="left:356.00px;top:609.80px">5</div>
<div class="t z3" style="left:392.40px;top:609.80px">4</div>
<div class="t z3" style="left:428.80px;top:609.80px">2</div>
<div class="t z4" style="left:465.20px;top:609.80px">3</div>
<div class="b bb" style="left:509.10px;top:611.60px"><span>32</span></div>
<div class="t z4" style="left:538.00px;top:609.80px">3</div>
<div class="t z4" style="left:574.40px;top:609.80px">5</div>
<div class="t z4" style="left:610.80px;top:609.80px">4</div>
<div class="b bb" style="left:654.70px;top:611.60px"><span>36</span></div>
<div class="b bb" style="left:691.10px;top:611.60px"><span>37</span></div>
<div class="t z4" style="left:720.00px;top:609.80px">1</div>
<div class="t z4" style="left:756.40px;top:609.80px">1</div>
<div class="t z4" style="left:792.80px;top:609.80px">1</div>
<div class="pid" style="top:635.30px">26078</div>
<div class="t z4" style="left:65.20px;top:635.40px">4</div>
<div class="b bd" style="left:108.70px;top:637.20px"><span>21</span></div>
<div class="t z3" style="left:137.60px;top:635.40px">3</div>
<div class="t z3" style="left:174.00px;top:635.40px">3</div>
<div class="b bd" style="left:217.90px;top:637.20px"><span>24</span></div>
<div class="t z3" style="left:246.80px;top:635.40px">3</div>
<div class="t z3" style="left:283.20px;top:635.40px">5</div>
<div class="b bb" style="left:327.10px;top:637.20px"><span>27</span></div>
<div class="t z3" style="left:356.00px;top:635.40px">6</div>
<div class="t z3" style="left:392.40px;top:635.40px">5</div>
<div class="t z3" style="left:428.80px;top:635.40px">3</div>
<div class="b bb" style="left:472.70px;top:637.20px"><span>31</span></div>
<div class="b bb" style="left:509.10px;top:637.20px"><span>32</span></div>
<div class="t z4" style="left:538.00px;top:635.40px">4</div>
<div class="b bb" style="left:581.90px;top:637.20px"><span>34</span></div>
<div class="t z4" style="left:610.80px;top:635.40px">5</div>
<div class="t z4" style="left:647.20px;top:635.40px">1</div>
<div class="t z4" style="left:683.60px;top:635.40px">1</div>
<div class="b bb" style="left:727.50px;top:637.20px"><span>38</span></div>
<div class="t z4" style="left:756.40px;top:635.40px">2</div>
<div class="t z4" style="left:792.80px;top:635.40px">2</div>
<div class="pid" style="top:660.90px">26079</div>
<div class="t z4" style="left:65.20px;top:661.00px">5</div>
<div class="t z3" style="left:101.20px;top:661.00px">1</div>
<div class="t z3" style="left:137.60px;top:661.00px">4</div>
<div class="b bb" style="left:181.50px;top:662.80px"><span>23</span></div>
<div class="t z3" style="left:210.40px;top:661.00px">1</div>
<div class="t z3" style="left:246.80px;top:661.00px">4</div>
<div class="t z3" style="left:283.20px;top:661.00px">6</div>
<div class="t z3" style="left:319.60px;top:661.00px">1</div>
<div class="t z3" style="left:356.00px;top:661.00px">7</div>
<div class="t z3" style="left:392.40px;top:661.00px">6</div>
<div class="t z3" style="left:428.80px;top:661.00px">4</div>
<div class="t z4" style="left:465.20px;top:661.00px">1</div>
<div class="t z4" style="left:501.60px;top:661.00px">1</div>
<div class="t z4" style="left:538.00px;top:661.00px">5</div>
<div class="t z4" style="left:574.40px;top:661.00px">1</div>
<div class="t z4" style="left:610.80px;top:661.00px">6</div>
<div class="t z4" style="left:647.20px;top:661.00px">2</div>
<div class="t z4" style="left:683.60px;top:661.00px">2</div>
<div class="b bb" style="left:727.50px;top:662.80px"><span>38</span></div>
<div class="b bb" style="left:763.90px;top:662.80px"><span>39</span></div>
<div class="t z4" style="left:792.80px;top:661.00px">3</div>
<div class="pid" style="top:686.50px">26080</div>
<div class="t z4" style="left:65.20px;top:686.60px">6</div>
<div class="t z3" style="left:101.20px;top:686.60px">2</div>
<div class="t z3" style="left:137.60px;top:686.60px">5</div>
<div class="t z3" style="left:174.00px;top:686.60px">1</div>
<div class="b bb" style="left:217.90px;top:688.40px"><span>24</span></div>
<div class="b bb" style="left:254.30px;top:688.40px"><span>25</span></div>
<div class="t z3" style="left:283.20px;top:686.60px">7</div>
<div class="b bb" style="left:327.10px;top:688.40px"><span>27</span></div>
<div class="t z3" style="left:356.00px;top:686.60px">8</div>
<div class="t z3" style="left:392.40px;top:686.60px">7</div>
<div class="t z3" style="left:428.80px;top:686.60px">5</div>
<div class="t z4" style="left:465.20px;top:686.60px">2</div>
<div class="b bd" style="left:509.10px;top:688.40px"><span>32</span></div>
<div class="b bd" style="left:545.50px;top:688.40px"><span>33</span></div>
<div class="b bd" style="left:581.90px;top:688.40px"><span>34</span></div>
<div class="t z4" style="left:610.80px;top:686.60px">7</div>
<div class="t z4" style="left:647.20px;top:686.60px">3</div>
<div class="t z4" style="left:683.60px;top:686.60px">3</div>
<div class="t z4" style="left:720.00px;top:686.60px">1</div>
<div class="t z4" style="left:756.40px;top:686.60px">1</div>
<div class="t z4" style="left:792.80px;top:686.60px">4</div>
<div class="pid" style="top:712.10px">26081</div>
<div class="b bb" style="left:72.70px;top:714.00px"><span>20</span></div>
<div class="t z3" style="left:101.20px;top:712.20px">3</div>
<div class="t z3" style="left:137.60px;top:712.20px">6</div>
<div class="t z3" style="left:174.00px;top:712.20px">2</div>
<div class="t z3" style="left:210.40px;top:712.20px">1</div>
<div class="t z3" style="left:246.80px;top:712.20px">1</div>
<div class="t z3" style="left:283.20px;top:712.20px">8</div>
<div class="t z3" style="left:319.60px;top:712.20px">1</div>
<div class="t z3" style="left:356.00px;top:712.20px">9</div>
<div class="t z3" style="left:392.40px;top:712.20px">8</div>
<div class="t z3" style="left:428.80px;top:712.20px">6</div>
<div class="t z4" style="left:465.20px;top:712.20px">3</div>
<div class="b bb" style="left:509.10px;top:714.00px"><span>32</span></div>
<div class="t z4" style="left:538.00px;top:712.20px">1</div>
<div class="b bb" style="left:581.90px;top:714.00px"><span>34</span></div>
<div class="t z4" style="left:610.80px;top:712.20px">8</div>
<div class="t z4" style="left:647.20px;top:712.20px">4</div>
<div class="t z4" style="left:683.60px;top:712.20px">4</div>
<div class="t z4" style="left:720.00px;top:712.20px">2</div>
<div class="b bb" style="left:763.90px;top:714.00px"><span>39</span></div>
<div class="t z4" style="left:792.80px;top:712.20px">5</div>
<div class="t" style="left:65.20px;top:737.70px;color:#f6a0a0">20</div>
<div class="t" style="left:65.20px;top:763.30px;color:#f6a0a0">20</div>
<div class="t" style="left:101.20px;top:737.70px;color:#f6a0a0">21</div>
<div class="t" style="left:101.20px;top:763.30px;color:#f6a0a0">21</div>
<div class="b bb" style="left:145.10px;top:739.60px"><span>22</span></div>
<div class="t" style="left:137.60px;top:763.30px;color:#f6a0a0">22</div>
<div class="t" style="left:174.00px;top:737.70px;color:#f6a0a0">23</div>
<div class="t" style="left:174.00px;top:763.30px;color:#f6a0a0">23</div>
<div class="t" style="left:210.40px;top:737.70px;color:#f6a0a0">24</div>
<div class="t" style="left:210.40px;top:763.30px;color:#f6a0a0">24</div>
<div class="t" style="left:246.80px;top:737.70px;color:#f6a0a0">25</div>
<div class="t" style="left:246.80px;top:763.30px;color:#f6a0a0">25</div>
<div class="t" style="left:283.20px;top:737.70px;color:#f6a0a0">26</div>
<div class="t" style="left:283.20px;top:763.30px;color:#f6a0a0">26</div>
<div class="b bb" style="left:327.10px;top:739.60px"><span>27</span></div>
<div class="t" style="left:319.60px;top:763.30px;color:#f6a0a0">27</div>
<div class="t" style="left:356.00px;top:737.70px;color:#f6a0a0">28</div>
<div class="t" style="left:356.00px;top:763.30px;color:#f6a0a0">28</div>
<div class="t" style="left:392.40px;top:737.70px;color:#f6a0a0">29</div>
<div class="t" style="left:392.40px;top:763.30px;color:#f6a0a0">29</div>
<div class="t" style="left:428.80px;top:737.70px;color:#f6a0a0">30</div>
<div class="t" style="left:428.80px;top:763.30px;color:#f6a0a0">30</div>
<div class="b bb" style="left:472.70px;top:739.60px"><span>31</span></div>
<div class="t" style="left:465.20px;top:763.30px;color:#f6a0a0">31</div>
<div class="t" style="left:501.60px;top:737.70px;color:#f6a0a0">32</div>
<div class="t" style="left:501.60px;top:763.30px;color:#f6a0a0">32</div>
<div class="t" style="left:538.00px;top:737.70px;color:#f6a0a0">33</div>
<div class="t" style="left:538.00px;top:763.30px;color:#f6a0a0">33</div>
<div class="t" style="left:574.40px;top:737.70px;color:#f6a0a0">34</div>
<div class="t" style="left:574.40px;top:763.30px;color:#f6a0a0">34</div>
<div class="t" style="left:610.80px;top:737.70px;color:#f6a0a0">35</div>
<div class="t" style="left:610.80px;top:763.30px;color:#f6a0a0">35</div>
<div class="t" style="left:647.20px;top:737.70px;color:#f6a0a0">36</div>
<div class="t" style="left:647.20px;top:763.30px;color:#f6a0a0">36</div>
<div class="b bb" style="left:691.10px;top:739.60px"><span>37</span></div>
<div class="t" style="left:683.60px;top:763.30px;color:#f6a0a0">37</div>
<div class="b bb" style="left:727.50px;top:739.60px"><span>38</span></div>
<div class="t" style="left:720.00px;top:763.30px;color:#f6a0a0">38</div>
<div class="t" style="left:756.40px;top:737.70px;color:#f6a0a0">39</div>
<div class="t" style="left:756.40px;top:763.30px;color:#f6a0a0">39</div>
<div class="t" style="left:792.80px;top:737.70px;color:#f6a0a0">40</div>
<div class="t" style="left:792.80px;top:763.30px;color:#f6a0a0">40</div>
<div class="a" style="left:12px;top:744.00px;width:13px;height:13px;border:1px solid #f9cdc4;border-radius:50%"></div>
<div class="a" style="left:12px;top:769.60px;width:13px;height:13px;border:1px solid #f9cdc4;border-radius:50%"></div>
<div class="a" style="left:12px;top:793.40px;width:13px;height:13px;border:1px solid #f9cdc4;border-radius:50%"></div>
<div class="a" style="left:35px;top:737.70px;font-size:14px;line-height:25.6px;color:#f6a0a0;white-space:nowrap">选号</div>
<div class="a" style="left:35px;top:763.30px;font-size:14px;line-height:25.6px;color:#f6a0a0;white-space:nowrap">选号</div>
</div>
<div class="a L" style="left:0;top:61px;width:831px;height:47px;overflow:hidden">
<div class="a" style="left:2px;top:0;width:829px;height:47px;background:#e8e8e8"></div>
<div class="hl" style="left:72px;top:24px;width:759px;background:#dcdcdc"></div>
<div class="vl" style="left:137.40px;top:25px;height:22px;background:#dedede"></div>
<div class="vl" style="left:173.80px;top:25px;height:22px;background:#dedede"></div>
<div class="vl" style="left:210.20px;top:25px;height:22px;background:#dedede"></div>
<div class="vl" style="left:246.60px;top:25px;height:22px;background:#dedede"></div>
<div class="vl" style="left:283.00px;top:25px;height:22px;background:#dedede"></div>
<div class="vl" style="left:319.40px;top:25px;height:22px;background:#dedede"></div>
<div class="vl" style="left:355.80px;top:25px;height:22px;background:#dedede"></div>
<div class="vl" style="left:392.20px;top:25px;height:22px;background:#dedede"></div>
<div class="vl" style="left:428.60px;top:25px;height:22px;background:#dedede"></div>
<div class="vl" style="left:501.40px;top:25px;height:22px;background:#dedede"></div>
<div class="vl" style="left:537.80px;top:25px;height:22px;background:#dedede"></div>
<div class="vl" style="left:574.20px;top:25px;height:22px;background:#dedede"></div>
<div class="vl" style="left:610.60px;top:25px;height:22px;background:#dedede"></div>
<div class="vl" style="left:647.00px;top:25px;height:22px;background:#dedede"></div>
<div class="vl" style="left:683.40px;top:25px;height:22px;background:#dedede"></div>
<div class="vl" style="left:719.80px;top:25px;height:22px;background:#dedede"></div>
<div class="vl" style="left:756.20px;top:25px;height:22px;background:#dedede"></div>
<div class="vl" style="left:792.60px;top:25px;height:22px;background:#dedede"></div>
<div class="a" style="left:70px;top:0;width:2px;height:47px;background:#c8c8c8"></div>
<div class="a" style="left:99px;top:0;width:2px;height:47px;background:#c8c8c8"></div>
<div class="a" style="left:463px;top:0;width:2px;height:47px;background:#c8c8c8"></div>
<div class="a" style="left:827px;top:0;width:2px;height:47px;background:#c8c8c8"></div>
<div class="a" style="left:15.5px;top:12px;font-size:14.5px;color:#666;white-space:nowrap">期号</div>
<svg class="a" style="left:47px;top:17px" width="9" height="13"><polygon points="1,5.3 7.2,5.3 4.1,1" fill="#f24a4a"/><polygon points="1,7.8 7.2,7.8 4.1,12" fill="#bdbdbd"/></svg>
<div class="a" style="left:101px;top:0;width:362px;text-align:center;font-size:14px;line-height:24px;color:#666">三区</div>
<div class="a" style="left:465px;top:0;width:362px;text-align:center;font-size:14px;line-height:24px;color:#666">四区</div>
<div class="t" style="left:65.20px;top:24px;height:24px;line-height:24px;color:#707070;font-size:15px">20</div>
<div class="t" style="left:101.20px;top:24px;height:24px;line-height:24px;color:#707070;font-size:15px">21</div>
<div class="t" style="left:137.60px;top:24px;height:24px;line-height:24px;color:#707070;font-size:15px">22</div>
<div class="t" style="left:174.00px;top:24px;height:24px;line-height:24px;color:#707070;font-size:15px">23</div>
<div class="t" style="left:210.40px;top:24px;height:24px;line-height:24px;color:#707070;font-size:15px">24</div>
<div class="t" style="left:246.80px;top:24px;height:24px;line-height:24px;color:#707070;font-size:15px">25</div>
<div class="t" style="left:283.20px;top:24px;height:24px;line-height:24px;color:#707070;font-size:15px">26</div>
<div class="t" style="left:319.60px;top:24px;height:24px;line-height:24px;color:#707070;font-size:15px">27</div>
<div class="t" style="left:356.00px;top:24px;height:24px;line-height:24px;color:#707070;font-size:15px">28</div>
<div class="t" style="left:392.40px;top:24px;height:24px;line-height:24px;color:#707070;font-size:15px">29</div>
<div class="t" style="left:428.80px;top:24px;height:24px;line-height:24px;color:#707070;font-size:15px">30</div>
<div class="t" style="left:465.20px;top:24px;height:24px;line-height:24px;color:#707070;font-size:15px">31</div>
<div class="t" style="left:501.60px;top:24px;height:24px;line-height:24px;color:#707070;font-size:15px">32</div>
<div class="t" style="left:538.00px;top:24px;height:24px;line-height:24px;color:#707070;font-size:15px">33</div>
<div class="t" style="left:574.40px;top:24px;height:24px;line-height:24px;color:#707070;font-size:15px">34</div>
<div class="t" style="left:610.80px;top:24px;height:24px;line-height:24px;color:#707070;font-size:15px">35</div>
<div class="t" style="left:647.20px;top:24px;height:24px;line-height:24px;color:#707070;font-size:15px">36</div>
<div class="t" style="left:683.60px;top:24px;height:24px;line-height:24px;color:#707070;font-size:15px">37</div>
<div class="t" style="left:720.00px;top:24px;height:24px;line-height:24px;color:#707070;font-size:15px">38</div>
<div class="t" style="left:756.40px;top:24px;height:24px;line-height:24px;color:#707070;font-size:15px">39</div>
<div class="t" style="left:792.80px;top:24px;height:24px;line-height:24px;color:#707070;font-size:15px">40</div>
</div>
<svg class="a" style="left:0;top:0" width="831" height="903"><rect x="460.95" y="381.15" width="41.70" height="254.50" fill="none" stroke="#1ecf8c" stroke-width="2.3"/><rect x="460.95" y="635.65" width="40.30" height="238.90" fill="none" stroke="#1ecf8c" stroke-width="2.3"/><rect x="321.25" y="614.15" width="35.60" height="259.20" fill="none" stroke="#1ecf8c" stroke-width="2.3"/><rect x="684.65" y="586.95" width="35.20" height="283.60" fill="none" stroke="#1ecf8c" stroke-width="2.3"/><rect x="719.45" y="586.95" width="38.40" height="281.60" fill="none" stroke="#1ecf8c" stroke-width="2.3"/><line x1="483.8" y1="857.6" x2="556" y2="807" stroke="#1ecf8c" stroke-width="2.3"/><polyline points="71.8,678.5 798,678.5" fill="none" stroke="#8b17ee" stroke-width="2.4"/><polyline points="155.2,678.5 150.2,837.3 155.6,858" fill="none" stroke="#8b17ee" stroke-width="2.4"/><polygon points="147.3,835.8 150.6,833.8 150.6,839.5" fill="#8b17ee"/><polyline points="446.4,678.5 442.3,844.5" fill="none" stroke="#8b17ee" stroke-width="2.4"/></svg>
<div class="a" style="left:14.3px;top:844px;font-size:30px;line-height:36px;letter-spacing:-0.4px;color:#14acf6;white-space:nowrap">26082</div>
<div class="a" style="left:0;top:0;width:2px;height:903px;background:#ececec"></div>
<div class="a" style="left:0;top:819.3px;width:2px;height:1px;background:#999"></div>
<div class="a" style="left:0;top:186.5px;width:2px;height:3px;background:#555"></div>
<div class="a" style="left:0;top:193.0px;width:2px;height:3px;background:#555"></div>
<div class="a" style="left:0;top:199.3px;width:2px;height:3px;background:#555"></div>
</div></body></html>
